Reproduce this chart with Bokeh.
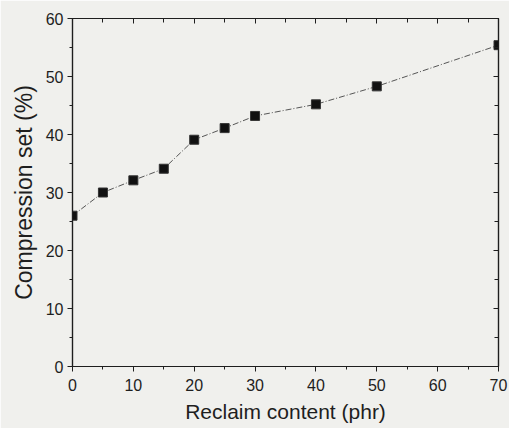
from bokeh.plotting import figure
from bokeh.models import Range1d, FixedTicker, LinearAxis
from bokeh.embed import file_html
from bokeh.resources import INLINE

reclaim_phr = [0, 5, 10, 15, 20, 25, 30, 40, 50, 70]
compression_set = [26.0, 30.0, 32.1, 34.1, 39.1, 41.1, 43.2, 45.2, 48.3, 55.4]

x_ticks = [0, 10, 20, 30, 40, 50, 60, 70]
x_minor = [5, 15, 25, 35, 45, 55, 65]
y_ticks = [0, 10, 20, 30, 40, 50, 60]
y_minor = [5, 15, 25, 35, 45, 55]

BG = "#f0f0ed"
FONT = "Liberation Sans"
INK = "#1e1e1e"

p = figure(width=509, height=428, output_backend="svg", toolbar_location=None,
           x_range=Range1d(0, 70), y_range=Range1d(0, 60),
           min_border_left=72, min_border_right=11, min_border_top=18, min_border_bottom=62)
p.background_fill_color = BG
p.border_fill_color = BG
p.outline_line_color = INK
p.outline_line_width = 1.2
p.grid.visible = False

p.line(reclaim_phr, compression_set, line_color="#555555", line_width=1, line_dash="6 2 1 2")
p.scatter(reclaim_phr, compression_set, marker="square", size=9, fill_color="#111111",
          line_color="#333333")

def style(ax, label_size="23px"):
    ax.axis_line_color = INK
    ax.axis_line_width = 1.2
    ax.major_tick_line_color = INK
    ax.minor_tick_line_color = INK
    ax.major_label_text_font = FONT
    ax.major_label_text_font_size = "16px"
    ax.major_label_text_color = INK
    ax.axis_label_text_font = FONT
    ax.axis_label_text_font_size = label_size
    ax.axis_label_text_font_style = "normal"
    ax.axis_label_text_color = INK

xa = p.xaxis[0]
xa.ticker = FixedTicker(ticks=x_ticks, minor_ticks=x_minor)
xa.axis_label = "Reclaim content (phr)"
xa.major_tick_out = 5
xa.major_tick_in = 0
xa.minor_tick_out = 3
xa.minor_tick_in = 0
xa.major_label_standoff = 7
xa.axis_label_standoff = 6
style(xa, "21px")

ya = p.yaxis[0]
ya.ticker = FixedTicker(ticks=y_ticks, minor_ticks=y_minor)
ya.axis_label = "Compression set (%)"
ya.major_tick_out = 5
ya.major_tick_in = 0
ya.minor_tick_out = 3
ya.minor_tick_in = 0
ya.major_label_standoff = 4
ya.axis_label_standoff = 6
style(ya, "23px")

top = LinearAxis(ticker=FixedTicker(ticks=x_ticks, minor_ticks=x_minor))
top.major_tick_in = 5
top.major_tick_out = 0
top.minor_tick_in = 4
top.minor_tick_out = 0
top.major_label_overrides = {t: "" for t in x_ticks}
style(top)
p.add_layout(top, "above")

right = LinearAxis(ticker=FixedTicker(ticks=y_ticks, minor_ticks=y_minor))
right.major_tick_in = 5
right.major_tick_out = 0
right.minor_tick_in = 4
right.minor_tick_out = 0
right.major_label_overrides = {t: "" for t in y_ticks}
style(right)
p.add_layout(right, "right")

open("out.html", "w").write(file_html(p, INLINE))
